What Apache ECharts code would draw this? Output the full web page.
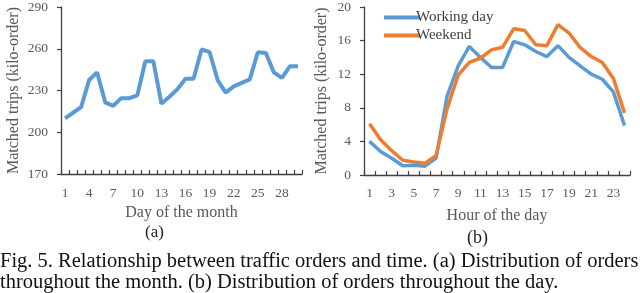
<!DOCTYPE html>
<html>
<head>
<meta charset="utf-8">
<script src="https://cdn.jsdelivr.net/npm/echarts@6/dist/echarts.min.js"></script>
<style>
html,body{margin:0;padding:0;background:#fff;}
#c{width:640px;height:293px;}
</style>
</head>
<body>
<div id="c"></div>
<script>
// ---- data ----
const days = Array.from({length: 30}, (_, i) => String(i + 1));
const monthTrips = [210, 214, 218, 237.5, 243, 221.5, 219, 224.5, 224.5, 226.5, 251, 251, 220.5, 225.5, 231, 238.5, 238.5, 259.5, 257.5, 237.5, 228.5, 233, 235.5, 238, 257.5, 257, 243, 239, 247.5, 247.5];
const hours = Array.from({length: 24}, (_, i) => String(i + 1));
const workingDay = [4.0, 2.8, 2.0, 1.1, 1.15, 1.05, 2.0, 9.4, 13.0, 15.3, 14.0, 12.8, 12.8, 15.9, 15.5, 14.7, 14.1, 15.4, 14.0, 13.0, 12.0, 11.4, 9.9, 5.9];
const weekend = [6.1, 4.2, 2.9, 1.75, 1.55, 1.4, 2.3, 7.9, 11.9, 13.4, 13.9, 14.9, 15.2, 17.4, 17.2, 15.5, 15.4, 17.9, 16.9, 15.2, 14.1, 13.4, 11.5, 7.4];
const yTicksA = {min: 170, max: 290, interval: 30};
const yTicksB = {min: 0, max: 20, interval: 4};

const serif = '"Liberation Serif", "Times New Roman", serif';
const labelColor = '#595959';
const axisColor = '#404040';

const chart = echarts.init(document.getElementById('c'), null, {renderer: 'canvas'});

function xAxisCfg(gridIndex, data, name, interval, margin, nameGap) {
  return {
    type: 'category', gridIndex, data, boundaryGap: true,
    name, nameLocation: 'middle', nameGap,
    nameTextStyle: {fontFamily: serif, fontSize: 16, color: labelColor},
    axisLine: {lineStyle: {color: axisColor, width: 1.3}},
    axisTick: {show: true, inside: true, length: 4, interval: 0, lineStyle: {color: axisColor, width: 1.2}},
    axisLabel: {interval, margin, fontFamily: serif, fontSize: 13.5, color: labelColor},
    splitLine: {show: false}
  };
}
function yAxisCfg(gridIndex, t, nameGap) {
  return {
    type: 'value', gridIndex, min: t.min, max: t.max, interval: t.interval,
    name: 'Matched trips (kilo-order)', nameLocation: 'middle', nameGap,
    nameTextStyle: {fontFamily: serif, fontSize: 16, color: labelColor},
    axisLine: {show: true, lineStyle: {color: axisColor, width: 1.3}},
    axisTick: {show: true, inside: false, length: 4, lineStyle: {color: axisColor, width: 1.2}},
    axisLabel: {margin: 13, fontFamily: serif, fontSize: 13.5, color: labelColor},
    splitLine: {show: false}
  };
}

chart.setOption({
  animation: false,
  backgroundColor: '#fff',
  grid: [
    {left: 61, right: 338, top: 7, bottom: 119},
    {left: 364, right: 10, top: 7, bottom: 118}
  ],
  xAxis: [
    xAxisCfg(0, days, 'Day of the month', 2, 12, 29),
    xAxisCfg(1, hours, 'Hour of the day', 1, 11, 33)
  ],
  yAxis: [
    yAxisCfg(0, yTicksA, 39),
    yAxisCfg(1, yTicksB, 34)
  ],
  legend: {
    orient: 'vertical', left: 379, top: 5, itemGap: 3,
    itemWidth: 36, itemHeight: 14,
    data: [
      {name: 'Working day', icon: 'path://M0,0 L36,0 L36,4 L0,4 Z'},
      {name: 'Weekend', icon: 'path://M0,0 L36,0 L36,4 L0,4 Z'}
    ],
    textStyle: {fontFamily: serif, fontSize: 15, color: '#404040', padding: [0, 0, 0, -9]}
  },
  series: [
    {type: 'line', xAxisIndex: 0, yAxisIndex: 0, data: monthTrips, symbol: 'none',
     lineStyle: {color: '#5B9BD5', width: 4}, itemStyle: {color: '#5B9BD5'}},
    {name: 'Working day', type: 'line', xAxisIndex: 1, yAxisIndex: 1, data: workingDay, symbol: 'none',
     lineStyle: {color: '#5B9BD5', width: 3.5}, itemStyle: {color: '#5B9BD5'}},
    {name: 'Weekend', type: 'line', xAxisIndex: 1, yAxisIndex: 1, data: weekend, symbol: 'none',
     lineStyle: {color: '#ED7D31', width: 3.5}, itemStyle: {color: '#ED7D31'}}
  ],
  graphic: [
    {type: 'text', left: 145, top: 224, style: {text: '(a)', font: '17px ' + serif, fill: '#222'}},
    {type: 'text', left: 467, top: 229, style: {text: '(b)', font: '18px ' + serif, fill: '#222'}},
    {type: 'text', left: 0, top: 251, style: {text: 'Fig. 5. Relationship between traffic orders and time. (a) Distribution of orders', font: '20.5px ' + serif, fill: '#111'}},
    {type: 'text', left: 0, top: 272, style: {text: 'throughout the month. (b) Distribution of orders throughout the day.', font: '20.5px ' + serif, fill: '#111'}}
  ]
});
</script>
</body>
</html>
